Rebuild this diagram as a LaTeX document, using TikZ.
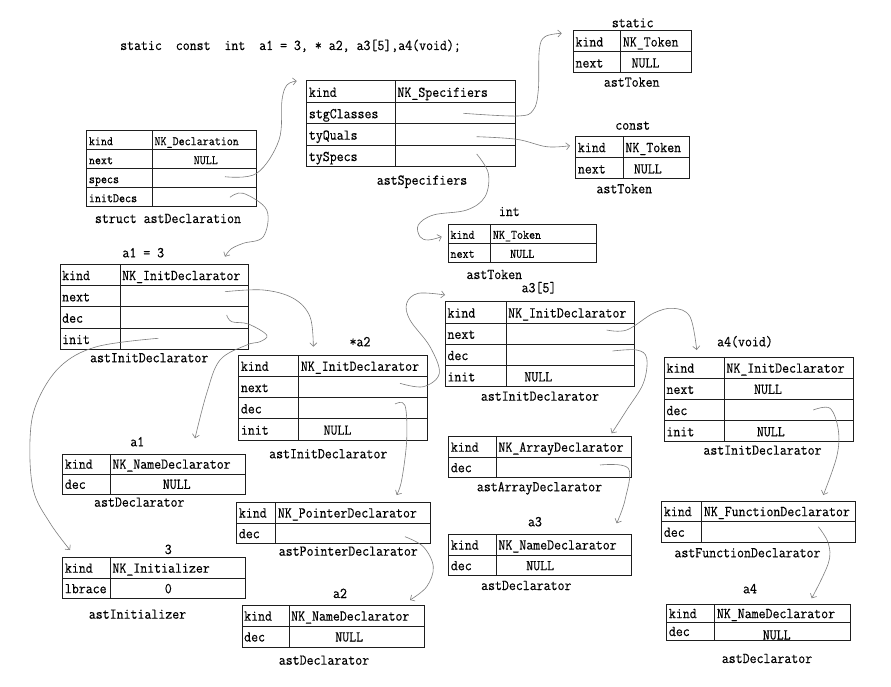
\documentclass[tikz,border=0pt]{standalone}
\usepackage{fontspec}
\newfontfamily\cellfont{Latin Modern Mono}[FakeBold=0.35,FakeStretch=0.9]
\usetikzlibrary{arrows.meta}
\definecolor{conncol}{RGB}{125,125,125}
\definecolor{boxcol}{RGB}{30,30,30}
\newcommand\mysz{\fontsize{15}{16}\selectfont}
\newcommand\sm{\fontsize{13}{14}\selectfont}
\def\bl{5.5}
\newcommand\cl[6]{\node[cellbox,minimum width=#4pt,minimum height=#5pt] (#1) at ({#2+#4/2},{#3+#5/2}) {};\node[txt,anchor=base west] (#1-t) at ({#2+2},{#3+#5-\bl}) {#6};}
\newcommand\cc[7]{\node[cellbox,minimum width=#4pt,minimum height=#5pt] (#1) at ({#2+#4/2},{#3+#5/2}) {};\node[txt,anchor=base] (#1-t) at ({#6},{#3+#5-\bl}) {#7};}
\newcommand\lab[4]{\node[txt,anchor=base] (#1) at (#2,{#3+4}) {#4};}
\tikzset{
  cellbox/.style={draw=boxcol,line width=1pt,inner sep=0pt,outer sep=0pt},
  txt/.style={inner sep=0pt,font=\cellfont\mysz},
  conn/.style={draw=conncol,line width=0.6pt,-{Straight Barb[length=3.5pt,width=7pt]}}
}
\begin{document}
\begin{tikzpicture}[x=1pt,y=-1pt]
\fill[white] (0,0) rectangle (891,687);
\useasboundingbox (0,0) rectangle (891,687);

% title
\node[txt,anchor=base west] (title) at (120,50) {static\ \ const\ \ int\ \ a1 = 3, * a2, a3[5],a4(void);};

% T1 astDeclaration
\def\bl{4.5}
\cl{dk}{86.7}{130.7}{65.6}{19}{\sm kind}
\cl{dkv}{152.3}{130.7}{104.4}{19}{\sm NK\_Declaration}
\cl{dn}{86.7}{149.7}{65.6}{19}{\sm next}
\cc{dnv}{152.3}{149.7}{104.4}{19}{205.8}{\sm NULL}
\cl{ds}{86.7}{168.7}{65.6}{19}{\sm specs}
\cl{dsv}{152.3}{168.7}{104.4}{19}{}
\cl{di}{86.7}{187.7}{65.6}{19}{\sm initDecs}
\cl{div}{152.3}{187.7}{104.4}{19}{}
\lab{dlab}{168}{219}{struct astDeclaration}

% T2 astSpecifiers
\def\bl{5.5}
\cl{sk}{306.7}{81}{88.6}{21.4}{kind}
\cl{skv}{395.3}{81}{120}{21.4}{NK\_Specifiers}
\cl{ss}{306.7}{102.4}{88.6}{21.4}{stgClasses}
\cl{ssv}{395.3}{102.4}{120}{21.4}{}
\cl{sq}{306.7}{123.8}{88.6}{21.4}{tyQuals}
\cl{sqv}{395.3}{123.8}{120}{21.4}{}
\cl{st}{306.7}{145.2}{88.6}{21.4}{tySpecs}
\cl{stv}{395.3}{145.2}{120}{21.4}{}
\lab{slab}{422}{180.7}{astSpecifiers}

% T3 static
\cl{tk}{573.3}{31}{47.4}{21}{kind}
\cl{tkv}{620.7}{31}{70.3}{21}{NK\_Token}
\cl{tn}{573.3}{52}{47.4}{21}{next}
\cc{tnv}{620.7}{52}{70.3}{21}{645.5}{NULL}
\lab{tlab}{632.7}{23.3}{static}
\lab{tlab2}{631.7}{82.7}{astToken}

% T4 const
\cl{ck}{575.7}{136.3}{47.6}{21.35}{kind}
\cl{ckv}{623.3}{136.3}{66}{21.35}{NK\_Token}
\cl{cn}{575.7}{157.65}{47.6}{21.35}{next}
\cc{cnv}{623.3}{157.65}{66}{21.35}{647.8}{NULL}
\lab{clab}{632.7}{125.7}{const}
\lab{clab2}{624.3}{189.3}{astToken}

% T5 int
\def\bl{4.5}
\cl{ik}{448.3}{224.3}{42.4}{19}{\sm kind}
\cl{ikv}{490.7}{224.3}{106}{19}{\sm NK\_Token}
\cl{in}{448.3}{243.3}{42.4}{19}{\sm next}
\cc{inv}{490.7}{243.3}{106}{19}{522.2}{\sm NULL}
\lab{ilab}{509.3}{212}{int}
\lab{ilab2}{494.3}{275}{astToken}

% T6 a1 = 3
\def\bl{5.5}
\cl{ak}{60}{264.3}{60}{21.3}{kind}
\cl{akv}{120}{264.3}{128.7}{21.3}{NK\_InitDeclarator}
\cl{an}{60}{285.6}{60}{21.3}{next}
\cl{anv}{120}{285.6}{128.7}{21.3}{}
\cl{ad}{60}{306.9}{60}{21.3}{dec}
\cl{adv}{120}{306.9}{128.7}{21.3}{}
\cl{ai}{60}{328.2}{60}{21.3}{init}
\cl{aiv}{120}{328.2}{128.7}{21.3}{}
\lab{alab}{143.3}{253.3}{a1 = 3}
\lab{alab2}{149.2}{358.3}{astInitDeclarator}

% T7 *a2
\cl{bk}{238.7}{355}{60}{21.3}{kind}
\cl{bkv}{298.7}{355}{129}{21.3}{NK\_InitDeclarator}
\cl{bn}{238.7}{376.3}{60}{21.3}{next}
\cl{bnv}{298.7}{376.3}{129}{21.3}{}
\cl{bd}{238.7}{397.6}{60}{21.3}{dec}
\cl{bdv}{298.7}{397.6}{129}{21.3}{}
\cl{bi}{238.7}{418.9}{60}{21.3}{init}
\cc{biv}{298.7}{418.9}{129}{21.3}{337.5}{NULL}
\lab{blab}{360}{342.3}{*a2}
\lab{blab2}{328.3}{454.3}{astInitDeclarator}

% T8 a1 name
\cl{ek}{62.7}{454}{47.6}{20.2}{kind}
\cl{ekv}{110.3}{454}{135.4}{20.2}{NK\_NameDeclarator}
\cl{ed}{62.7}{474.2}{47.6}{20.2}{dec}
\cc{edv}{110.3}{474.2}{135.4}{20.2}{176.7}{NULL}
\lab{elab}{137.3}{442.3}{a1}
\lab{elab2}{139.3}{502.7}{astDeclarator}

% T9 initializer
\cl{fk}{62.7}{557.7}{47.6}{20.5}{kind}
\cl{fkv}{110.3}{557.7}{135.4}{20.5}{NK\_Initializer}
\cl{fl}{62.7}{578.2}{47.6}{20.5}{lbrace}
\cc{flv}{110.3}{578.2}{135.4}{20.5}{168.3}{0}
\lab{flab}{168.3}{550}{3}
\lab{flab2}{137.5}{614.7}{astInitializer}

% T10 pointer
\cl{gk}{236.7}{502.3}{39}{20.7}{kind}
\cl{gkv}{275.7}{502.3}{154.3}{20.7}{NK\_PointerDeclarator}
\cl{gd}{236.7}{523}{39}{20.7}{dec}
\cl{gdv}{275.7}{523}{154.3}{20.7}{}
\lab{glab2}{348.3}{551.7}{astPointerDeclarator}

% T11 a2 name
\cl{hk}{242}{605.3}{47}{20.85}{kind}
\cl{hkv}{289}{605.3}{135.7}{20.85}{NK\_NameDeclarator}
\cl{hd}{242}{626.15}{47}{20.85}{dec}
\cc{hdv}{289}{626.15}{135.7}{20.85}{349.2}{NULL}
\lab{hlab}{340}{594}{a2}
\lab{hlab2}{324}{660.7}{astDeclarator}

% T12 a3[5]
\cl{jk}{445.3}{301.7}{60.7}{21.3}{kind}
\cl{jkv}{506}{301.7}{128.3}{21.3}{NK\_InitDeclarator}
\cl{jn}{445.3}{323}{60.7}{21.3}{next}
\cl{jnv}{506}{323}{128.3}{21.3}{}
\cl{jd}{445.3}{344.3}{60.7}{21.3}{dec}
\cl{jdv}{506}{344.3}{128.3}{21.3}{}
\cl{ji}{445.3}{365.6}{60.7}{21.3}{init}
\cc{jiv}{506}{365.6}{128.3}{21.3}{538.3}{NULL}
\lab{jlab}{539}{288.3}{a3[5]}
\lab{jlab2}{540}{396.7}{astInitDeclarator}

% T13 array
\cl{kk}{448.7}{436.7}{47.6}{20.5}{kind}
\cl{kkv}{496.3}{436.7}{135}{20.5}{NK\_ArrayDeclarator}
\cl{kd}{448.7}{457.2}{47.6}{20.5}{dec}
\cl{kdv}{496.3}{457.2}{135}{20.5}{}
\lab{klab2}{539.5}{487.3}{astArrayDeclarator}

% T14 a4(void)
\cl{mk}{664.3}{357}{60}{21.2}{kind}
\cl{mkv}{724.3}{357}{128.7}{21.2}{NK\_InitDeclarator}
\cl{mn}{664.3}{378.2}{60}{21.2}{next}
\cc{mnv}{724.3}{378.2}{128.7}{21.2}{768}{NULL}
\cl{md}{664.3}{399.4}{60}{21.2}{dec}
\cl{mdv}{724.3}{399.4}{128.7}{21.2}{}
\cl{mi}{664.3}{420.6}{60}{21.2}{init}
\cc{miv}{724.3}{420.6}{128.7}{21.2}{770.8}{NULL}
\lab{mlab}{745}{342.3}{a4(void)}
\lab{mlab2}{762.5}{450.7}{astInitDeclarator}

% T15 a3 name
\cl{nk}{448.7}{534.3}{47.6}{20.7}{kind}
\cl{nkv}{496.3}{534.3}{135}{20.7}{NK\_NameDeclarator}
\cl{nd}{448.7}{555}{47.6}{20.7}{dec}
\cc{ndv}{496.3}{555}{135}{20.7}{540.2}{NULL}
\lab{nlab}{535}{522.3}{a3}
\lab{nlab2}{526.3}{586}{astDeclarator}

% T16 function
\cl{pk}{661.7}{501}{40}{20.65}{kind}
\cl{pkv}{701.7}{501}{153.6}{20.65}{NK\_FunctionDeclarator}
\cl{pd}{661.7}{521.65}{40}{20.65}{dec}
\cl{pdv}{701.7}{521.65}{153.6}{20.65}{}
\lab{plab2}{747.5}{553.3}{astFunctionDeclarator}

% T17 a4 name
\def\bl{4}
\cl{qk}{666.7}{604.3}{48}{17.85}{kind}
\cl{qkv}{714.7}{604.3}{135.6}{17.85}{NK\_NameDeclarator}
\cl{qd}{666.7}{622.15}{48}{17.85}{dec}
\def\bl{0.5}
\cc{qdv}{714.7}{622.15}{135.6}{17.85}{776.7}{NULL}
\lab{qlab}{750}{589.3}{a4}
\lab{qlab2}{767}{659}{astDeclarator}

% connector end points
\coordinate (c1s) at (225,176.7);   \coordinate (c1e) at (296.7,81);
\coordinate (c2s) at (230,197.3);   \coordinate (c2e) at (225,256.7);
\coordinate (c3s) at (463.3,113.3); \coordinate (c3e) at (561.7,33.3);
\coordinate (c4s) at (476.7,136.7); \coordinate (c4e) at (570,145.7);
\coordinate (c5s) at (476.7,154);   \coordinate (c5e) at (441.7,236.7);
\coordinate (c6s) at (225,291.7);   \coordinate (c6e) at (313.3,346.7);
\coordinate (c7s) at (226.7,315);   \coordinate (c7e) at (195,438.3);
\coordinate (c8s) at (158.3,338.3); \coordinate (c8e) at (70,550);
\coordinate (c9s) at (400,383.3);   \coordinate (c9e) at (445,295);
\coordinate (c10s) at (395,404);    \coordinate (c10e) at (396.7,495);
\coordinate (c11s) at (405,536.7);  \coordinate (c11e) at (410,600);
\coordinate (c12s) at (606.7,330);  \coordinate (c12e) at (696.7,350);
\coordinate (c13s) at (612.7,351);  \coordinate (c13e) at (611.7,433.3);
\coordinate (c14s) at (600,465);    \coordinate (c14e) at (616.7,523.3);
\coordinate (c15s) at (813.3,410);  \coordinate (c15e) at (823.3,495);
\coordinate (c16s) at (818.3,526.7);\coordinate (c16e) at (811.7,598.3);

\draw[conn] plot[smooth,tension=0.6] coordinates {(c1s) (256.7,173.3) (279,140) (282,100) (287,85) (c1e)};
\draw[conn] plot[smooth,tension=0.6] coordinates {(c2s) (243.3,193.3) (266.7,210) (263.3,236.7) (243.3,243.3) (231,249) (c2e)};
\draw[conn] plot[smooth,tension=0.6] coordinates {(c3s) (517.7,116) (533.3,110) (538.3,90) (539.3,50) (545,36.7) (c3e)};
\draw[conn] plot[smooth,tension=0.6] coordinates {(c4s) (516.7,139.3) (546.7,146.7) (c4e)};
\draw[conn] plot[smooth,tension=0.6] coordinates {(c5s) (488.3,173.3) (485,196.7) (466.7,210) (433.3,215) (418.3,225) (420,236.7) (428.3,240) (c5e)};
\draw[conn] plot[smooth,tension=0.6] coordinates {(c6s) (263.3,290) (293.3,298.3) (310,316.7) (c6e)};
\draw[conn] plot[smooth,tension=0.6] coordinates {(c7s) (231.7,321.7) (248.3,324) (266.7,335) (260,341.7) (246.7,345) (220,360) (206.7,393.3) (c7e)};
\draw[conn] plot[smooth,tension=0.6] coordinates {(c8s) (96.7,346.7) (60,366.7) (36.7,403) (30,440) (33.3,490) (50,523) (c8e)};
\draw[conn] plot[smooth,tension=0.6] coordinates {(c9s) (423.3,386.7) (439.3,373.3) (430,346.7) (410,320) (406.7,303.3) (418.3,293.3) (c9e)};
\draw[conn] plot[smooth,tension=0.6] coordinates {(c10s) (405,405.5) (406.7,440) (401.7,480) (c10e)};
\draw[conn] plot[smooth,tension=0.6] coordinates {(c11s) (423.3,546.7) (433.3,566.7) (426.7,586.7) (c11e)};
\draw[conn] plot[smooth,tension=0.6] coordinates {(c12s) (626.7,330) (653.3,313.3) (673.3,308.3) (690,316.7) (c12e)};
\draw[conn] plot[smooth,tension=0.6] coordinates {(c13s) (636.7,350) (646.7,358.3) (643.3,383.3) (626.7,410) (c13e)};
\draw[conn] plot[smooth,tension=0.6] coordinates {(c14s) (628.3,468.3) (625,500) (c14e)};
\draw[conn] plot[smooth,tension=0.6] coordinates {(c15s) (830,408.3) (838.3,430) (836.7,456.7) (c15e)};
\draw[conn] plot[smooth,tension=0.6] coordinates {(c16s) (828.3,543.3) (828.3,563.3) (c16e)};
\end{tikzpicture}
\end{document}
